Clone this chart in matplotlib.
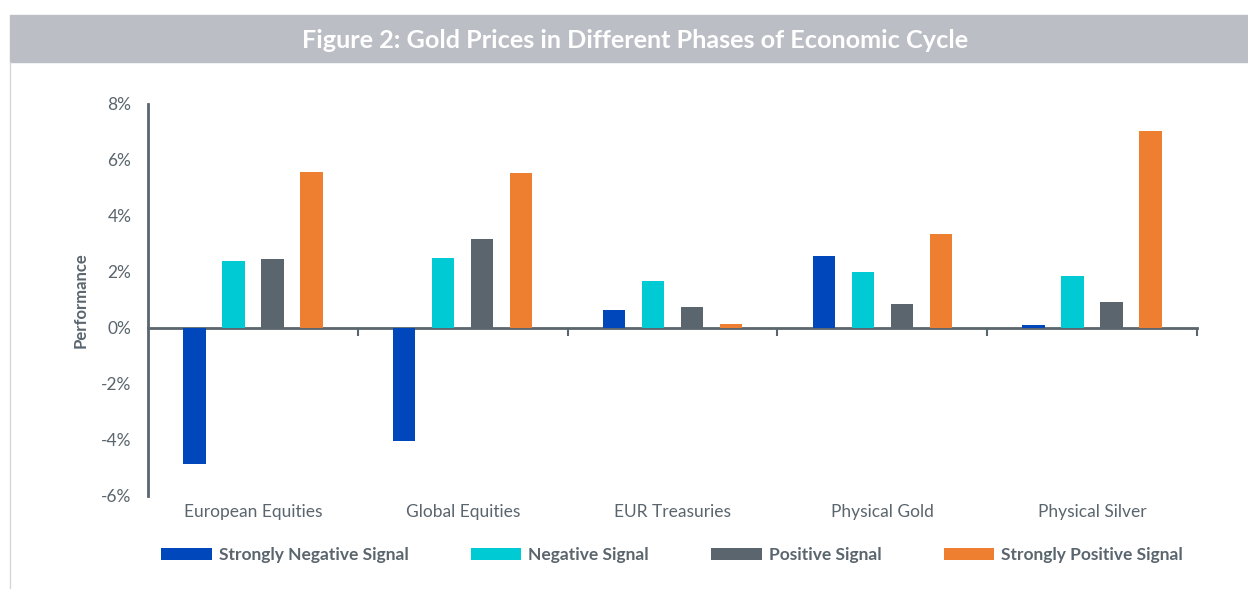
import numpy as np
import matplotlib.pyplot as plt
from matplotlib.patches import Rectangle
from matplotlib.lines import Line2D
from matplotlib.transforms import offset_copy

#chart data
categories = ['European Equities', 'Global Equities', 'EUR Treasuries',
              'Physical Gold', 'Physical Silver']
series = ['Strongly Negative Signal', 'Negative Signal', 'Positive Signal',
          'Strongly Positive Signal']
strongly_negative = [-4.86, -4.04, 0.64, 2.57, 0.10]
negative = [2.39, 2.50, 1.68, 2.00, 1.86]
positive = [2.46, 3.18, 0.75, 0.86, 0.93]
strongly_positive = [5.57, 5.54, 0.14, 3.36, 7.04]
yticks = [-6, -4, -2, 0, 2, 4, 6, 8]

colors = ['#0047BB', '#00CBD5', '#5A656D', '#EE7F30']
gray = '#5A656D'

plt.rcParams['font.family'] = ['Lato', 'DejaVu Sans']

W, H = 1248, 589
fig = plt.figure(figsize=(W/100, H/100), dpi=100)

#title band and left border
fig.patches.append(Rectangle((10/W, 1 - 62/H), 1 - 10/W, 47/H,
                             transform=fig.transFigure, color='#BBBEC4', zorder=0))
fig.lines.append(Line2D([10/W, 10/W], [0, 1 - 62/H], transform=fig.transFigure,
                        color='#D5D7DB', lw=1))
fig.text(635/W, 1 - 40/H, 'Figure 2: Gold Prices in Different Phases of Economic Cycle',
         ha='center', va='center', color='white', fontsize=18.2, fontweight='bold')

ax = fig.add_axes([148/W, 1 - 496/H, (1197 - 148)/W, (496 - 104)/H])

x = np.arange(len(categories))
data = [strongly_negative, negative, positive, strongly_positive]
width = 0.107
step = 0.186
for i, (vals, c, name) in enumerate(zip(data, colors, series)):
    ax.bar(x + (i - 1.5) * step, vals, width, color=c, label=name, zorder=3)

ax.set_xlim(-0.5, len(categories) - 0.5)
ax.set_ylim(-6, 8)
ax.set_yticks(yticks)
ax.set_yticklabels(['%d%%' % v for v in yticks], color=gray, fontsize=12.5)
ax.tick_params(axis='y', length=0, pad=12)

#x axis sits at zero with ticks at category boundaries
ax.spines['bottom'].set_position(('data', 0))
ax.spines['bottom'].set_color(gray)
ax.spines['bottom'].set_linewidth(2)
ax.spines['left'].set_color(gray)
ax.spines['left'].set_linewidth(2)
ax.spines['top'].set_visible(False)
ax.spines['right'].set_visible(False)
ax.set_xticks(x + 0.5)
ax.set_xticklabels([])
ax.tick_params(axis='x', length=6, width=1.5, color=gray, direction='out')

#category names along the bottom of the plot area
lab_tr = offset_copy(ax.transData, fig=fig, x=0, y=-8, units='dots')
for xi, name in zip(x, categories):
    ax.text(xi, -6, name, ha='center', va='top', color=gray, fontsize=12.5,
            transform=lab_tr, clip_on=False)

ax.set_ylabel('Performance', color=gray, fontsize=12, fontweight='bold', labelpad=9)

#legend below the plot
handles, labels = ax.get_legend_handles_labels()
leg = fig.legend(handles, labels, loc='center', bbox_to_anchor=(672/W, 1 - 555/H),
                 ncol=4, frameon=False, handlelength=2.9, handleheight=0.75,
                 handletextpad=0.4, columnspacing=3.6,
                 prop={'weight': 'bold', 'size': 12.5})
for t in leg.get_texts():
    t.set_color(gray)

fig.savefig('out.png', dpi=100)
